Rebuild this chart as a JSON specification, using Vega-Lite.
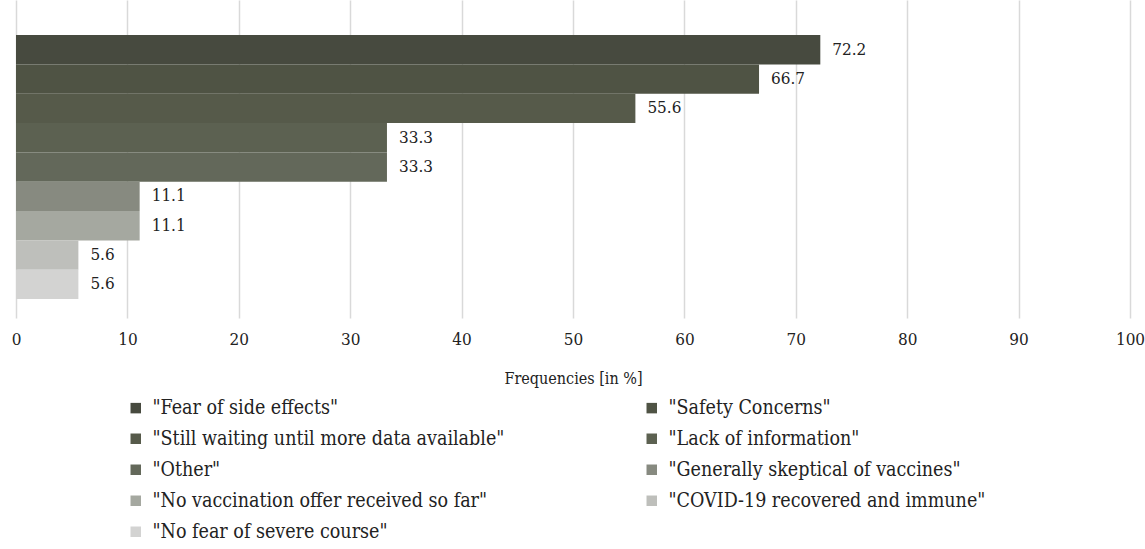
{
  "$schema": "https://vega.github.io/schema/vega-lite/v6.json",
  "width": 1114,
  "height": 318,
  "autosize": "none",
  "padding": {"left": 16, "top": 0, "right": 15, "bottom": 231},
  "background": "white",
  "config": {
    "view": {"stroke": null},
    "font": "DejaVu Serif Condensed"
  },
  "data": {
    "values": [
      {"reason": "\"Fear of side effects\"", "value": 72.2},
      {"reason": "\"Safety Concerns\"", "value": 66.7},
      {"reason": "\"Still waiting until more data available\"", "value": 55.6},
      {"reason": "\"Lack of information\"", "value": 33.3},
      {"reason": "\"Other\"", "value": 33.3},
      {"reason": "\"Generally skeptical of vaccines\"", "value": 11.1},
      {"reason": "\"No vaccination offer received so far\"", "value": 11.1},
      {"reason": "\"COVID-19 recovered and immune\"", "value": 5.6},
      {"reason": "\"No fear of severe course\"", "value": 5.6}
    ]
  },
  "encoding": {
    "y": {
      "field": "reason",
      "type": "nominal",
      "sort": null,
      "axis": null,
      "scale": {"paddingInner": 0, "paddingOuter": 0.92, "align": 0.65}
    },
    "x": {
      "field": "value",
      "type": "quantitative",
      "scale": {"domain": [0, 100], "nice": false},
      "axis": {
        "title": "Frequencies [in %]",
        "values": [0, 10, 20, 30, 40, 50, 60, 70, 80, 90, 100],
        "domain": false,
        "ticks": false,
        "grid": true,
        "gridColor": "#d9d9d9",
        "gridWidth": 1.5,
        "labelFlush": false,
        "labelFont": "DejaVu Serif Condensed",
        "labelFontSize": 17,
        "labelColor": "#222222",
        "labelPadding": 13,
        "titleFont": "DejaVu Serif Condensed",
        "titleFontSize": 16,
        "titleFontWeight": "normal",
        "titleColor": "#222222",
        "titlePadding": 23
      }
    }
  },
  "layer": [
    {
      "mark": {"type": "bar"},
      "encoding": {
        "color": {
          "field": "reason",
          "type": "nominal",
          "sort": null,
          "scale": {
            "domain": [
              "\"Fear of side effects\"",
              "\"Safety Concerns\"",
              "\"Still waiting until more data available\"",
              "\"Lack of information\"",
              "\"Other\"",
              "\"Generally skeptical of vaccines\"",
              "\"No vaccination offer received so far\"",
              "\"COVID-19 recovered and immune\"",
              "\"No fear of severe course\""
            ],
            "range": ["#474a3f", "#4f5344", "#565a4a", "#5c6151", "#63685a", "#878a80", "#a5a8a0", "#bebfbb", "#d3d3d2"]
          },
          "legend": {
            "title": null,
            "orient": "none",
            "legendX": 110,
            "legendY": 398,
            "direction": "horizontal",
            "columns": 2,
            "columnPadding": 137,
            "rowPadding": 10,
            "symbolType": "square",
            "symbolSize": 110,
            "symbolStrokeWidth": 0,
            "labelFont": "DejaVu Serif Condensed",
            "labelFontSize": 19.5,
            "labelColor": "#222222",
            "labelLimit": 500,
            "labelOffset": 7
          }
        }
      }
    },
    {
      "mark": {"type": "text", "align": "left", "baseline": "middle", "dx": 12, "font": "DejaVu Serif Condensed", "fontSize": 17, "color": "#222222"},
      "encoding": {
        "text": {"field": "value", "type": "quantitative", "format": ".1f"}
      }
    }
  ]
}
